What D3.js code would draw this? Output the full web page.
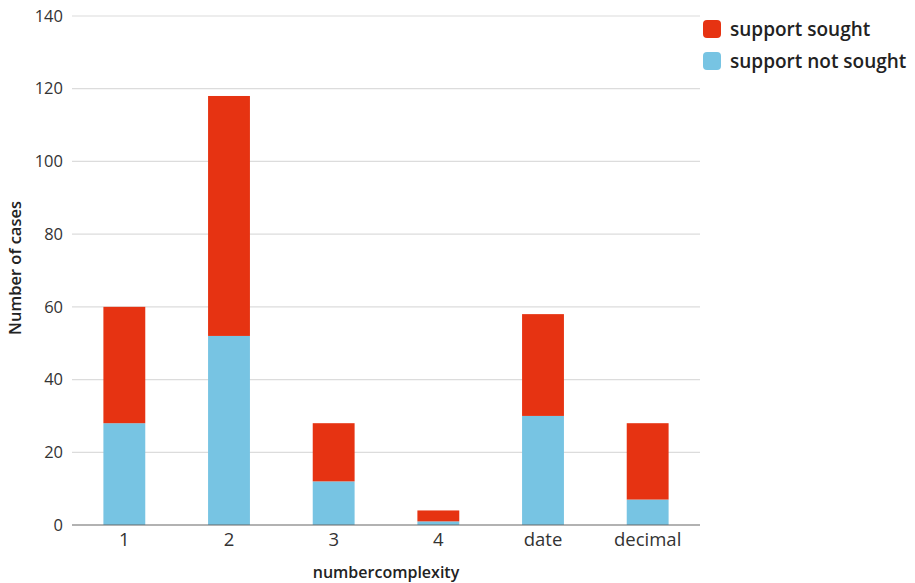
<!DOCTYPE html>
<html><head><meta charset="utf-8">
<script src="https://cdn.jsdelivr.net/npm/d3@7"></script>
<style>
body{margin:0;background:#fff;}
text{font-family:"Open Sans",sans-serif;}
</style></head>
<body><svg id="c" width="915" height="583"></svg>
<script>
const categories = ["1","2","3","4","date","decimal"];
const notSought = [28,52,12,1,30,7];
const sought = [32,66,16,3,28,21];
const seriesNames = ["support sought","support not sought"];
const seriesColors = ["#e63312","#77c4e3"];
const yTicks = [0,20,40,60,80,100,120,140];

const svg = d3.select("#c");
const m = {l:72, r:700, t:16, b:525};
const x = d3.scaleBand().domain(categories).range([m.l, m.r]).paddingInner(0.6).paddingOuter(0.3);
const y = d3.scaleLinear().domain([0,140]).range([m.b, m.t]);

// grid
svg.append("g").selectAll("line").data(yTicks.filter(d=>d>0)).join("line")
  .attr("x1", m.l).attr("x2", m.r).attr("y1", d=>y(d)).attr("y2", d=>y(d))
  .attr("stroke", "#dcdcdc").attr("stroke-width", 1.2);

// y tick labels
svg.append("g").selectAll("text").data(yTicks).join("text")
  .attr("x", 63).attr("y", d=>y(d)).attr("dy","0.35em").attr("text-anchor","end")
  .attr("font-size", 16.5).attr("fill","#333").text(d=>d);

const rows = categories.map((c,i)=>({cat:c, ns:notSought[i], s:sought[i]}));
const g = svg.append("g");
rows.forEach(r=>{
  g.append("rect").attr("x", x(r.cat)).attr("width", x.bandwidth())
    .attr("y", y(r.ns)).attr("height", y(0)-y(r.ns)).attr("fill", seriesColors[1]);
  g.append("rect").attr("x", x(r.cat)).attr("width", x.bandwidth())
    .attr("y", y(r.ns+r.s)).attr("height", y(r.ns)-y(r.ns+r.s)).attr("fill", seriesColors[0]);
});

// baseline
svg.append("line").attr("x1", m.l).attr("x2", m.r).attr("y1", y(0)).attr("y2", y(0))
  .attr("stroke","#666").attr("stroke-width",1.2);

// x labels
svg.append("g").selectAll("text").data(categories).join("text")
  .attr("x", d=>x(d)+x.bandwidth()/2).attr("y", 546).attr("text-anchor","middle")
  .attr("font-size", 18.5).attr("fill","#333").text(d=>d);

svg.append("text").attr("x", 386).attr("y", 578).attr("text-anchor","middle")
  .attr("font-size", 16).attr("font-weight","600").attr("fill","#222").text("numbercomplexity");

svg.append("text").attr("transform","translate(21,268) rotate(-90)").attr("text-anchor","middle")
  .attr("font-size", 16.5).attr("font-weight","600").attr("fill","#222").text("Number of cases");

// legend
const lg = svg.append("g");
seriesNames.forEach((n,i)=>{
  lg.append("rect").attr("x",703).attr("y",20+i*32).attr("width",18).attr("height",18)
    .attr("rx",4).attr("fill",seriesColors[i]);
  lg.append("text").attr("x",730).attr("y",29+i*32).attr("dy","0.35em")
    .attr("font-size",19).attr("font-weight","600").attr("fill","#222").text(n);
});
</script></body></html>
